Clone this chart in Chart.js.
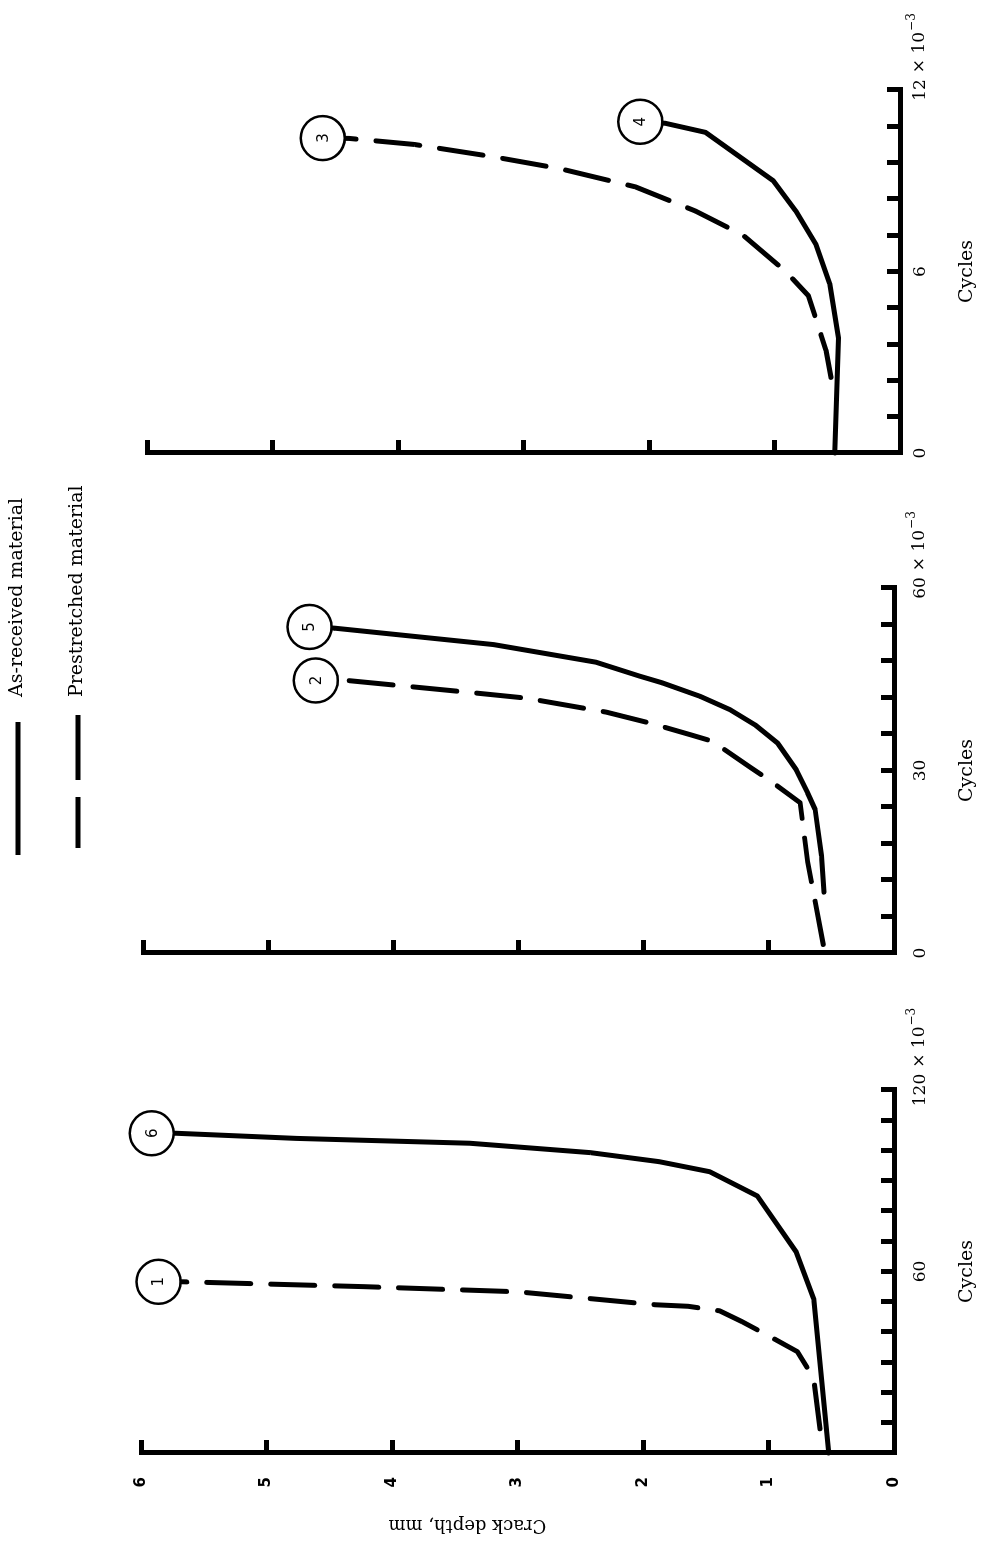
<!DOCTYPE html>
<html>
<head>
<meta charset="utf-8">
<title>Crack depth vs cycles</title>
<script src="https://cdn.jsdelivr.net/npm/chart.js@4.4.1/dist/chart.umd.min.js"></script>
<style>
  html, body { margin: 0; padding: 0; background: #fff; overflow: hidden; }
  /* the figure is drawn landscape, then turned a quarter turn to the left */
  #page { position: absolute; left: 0; top: 0; width: 1547px; height: 986px;
          transform-origin: 0 0; transform: translate(0, 1547px) rotate(-90deg); }
  #page canvas { position: absolute; left: 0; top: 0; }
</style>
</head>
<body>
<div id="page">
  <canvas id="panelA" width="1547" height="986"></canvas>
  <canvas id="panelB" width="1547" height="986"></canvas>
  <canvas id="panelC" width="1547" height="986"></canvas>
</div>
<script>
'use strict';

// left panel, cycles x 10^-3
var cyclesCurve1 = [8, 24.7, 33.5, 37.4, 43.4, 47.0, 48.5, 49.0, 53.3, 55.0, 56.6, 56.6];
var depthCurve1  = [0.59, 0.64, 0.77, 0.94, 1.21, 1.39, 1.64, 1.90, 3.00, 4.23, 5.66, 5.86];
var cyclesCurve6 = [0, 51, 66.5, 85, 93, 96.3, 99.3, 102.4, 104, 105.7, 105.7];
var depthCurve6  = [0.52, 0.64, 0.78, 1.09, 1.47, 1.87, 2.42, 3.38, 4.76, 5.72, 5.915];

// middle panel
var cyclesCurve2 = [1.4, 15, 24.7, 28.5, 30.4, 34.8, 35.9, 37.8, 39.6, 41.9, 43.0, 44.9, 44.8];
var depthCurve2  = [0.565, 0.69, 0.75, 1.0, 1.14, 1.45, 1.63, 1.95, 2.3, 2.94, 3.47, 4.42, 4.62];
var cyclesCurve5 = [10, 16, 23.6, 26.3, 30.1, 34.5, 37.5, 40, 42.2, 44.4, 45.5, 47.8, 50.7, 53.4, 53.6];
var depthCurve5  = [0.56, 0.58, 0.63, 0.69, 0.78, 0.93, 1.11, 1.31, 1.55, 1.85, 2.03, 2.38, 3.2, 4.47, 4.67];

// right panel
var cyclesCurve3 = [2.5, 3.4, 5.2, 6.0, 7.2, 8.0, 8.8, 9.4, 9.8, 10.2, 10.4, 10.41];
var depthCurve3  = [0.55, 0.59, 0.73, 0.91, 1.25, 1.63, 2.11, 2.71, 3.25, 3.87, 4.39, 4.6];
var cyclesCurve4 = [0, 3.8, 5.6, 6.9, 8.0, 9.0, 10.6, 10.9, 10.95];
var depthCurve4  = [0.52, 0.49, 0.56, 0.67, 0.83, 1.01, 1.55, 1.87, 2.07];

var cycleLabelsA = [60, 120];
var cycleLabelsB = [0, 30, 60];
var cycleLabelsC = [0, 6, 12];
var depthLabels = [0, 1, 2, 3, 4, 5, 6];
var legendNames = ['As-received material', 'Prestretched material'];

var SERIF = '"DejaVu Serif", serif';
var SANS = '"DejaVu Sans", sans-serif';
var DASH = [44, 20];

function curve(xs, ys, mark, dashed) {
  var n = xs.length;
  return {
    data: xs.map(function(x, i) { return { x: x, y: ys[i] }; }),
    mark: mark,
    borderColor: '#000',
    borderWidth: 5,
    borderDash: dashed ? DASH : [],
    borderCapStyle: 'round',
    borderJoinStyle: 'round',
    tension: 0,
    clip: false,
    pointRadius: function(c) { return c.dataIndex === n - 1 ? 22 : 0; },
    pointHoverRadius: 0,
    pointBackgroundColor: '#fff',
    pointBorderColor: '#000',
    pointBorderWidth: 2.5
  };
}

// circled curve numbers
var markText = {
  id: 'markText',
  afterDatasetsDraw: function(chart) {
    var ctx = chart.ctx;
    ctx.save();
    ctx.fillStyle = '#000';
    ctx.font = '15px ' + SANS;
    ctx.textAlign = 'center';
    ctx.textBaseline = 'middle';
    chart.data.datasets.forEach(function(ds, i) {
      var pts = chart.getDatasetMeta(i).data;
      var p = pts[pts.length - 1];
      ctx.fillText(ds.mark, p.x, p.y + 1);
    });
    ctx.restore();
  }
};

// "x 10^-3" after the last cycles label
var exponent = {
  id: 'exponent',
  afterDraw: function(chart) {
    var sx = chart.scales.x;
    var ctx = chart.ctx;
    var y = 920;
    ctx.save();
    ctx.fillStyle = '#000';
    ctx.textBaseline = 'middle';
    ctx.textAlign = 'left';
    ctx.font = '17px ' + SERIF;
    var x = sx.getPixelForValue(sx.max) + ctx.measureText(String(sx.max)).width / 2 + 6;
    ctx.fillText('\u00d7 10', x, y);
    x += ctx.measureText('\u00d7 10').width + 1;
    ctx.font = '12px ' + SERIF;
    ctx.fillText('\u22123', x, y - 8);
    ctx.restore();
  }
};

// axis title of the left panel, set a little toward the top of the axis as in the source
var depthTitle = {
  id: 'depthTitle',
  afterDraw: function(chart) {
    var sy = chart.scales.y;
    var ctx = chart.ctx;
    ctx.save();
    ctx.translate(22, sy.getPixelForValue(3.4));
    ctx.rotate(-Math.PI / 2);
    ctx.fillStyle = '#000';
    ctx.font = '18px ' + SERIF;
    ctx.textAlign = 'center';
    ctx.textBaseline = 'middle';
    ctx.fillText('Crack depth, mm', 0, 0);
    ctx.restore();
  }
};

var legendBox = {
  id: 'legendBox',
  afterDraw: function(chart) {
    var ctx = chart.ctx;
    ctx.save();
    ctx.strokeStyle = '#000';
    ctx.fillStyle = '#000';
    ctx.lineWidth = 5;
    ctx.lineCap = 'butt';
    ctx.beginPath();
    ctx.moveTo(692, 18);
    ctx.lineTo(825, 18);
    ctx.stroke();
    ctx.setLineDash([51, 17, 65, 100]);
    ctx.beginPath();
    ctx.moveTo(699, 78);
    ctx.lineTo(832, 78);
    ctx.stroke();
    ctx.font = '19px ' + SERIF;
    ctx.textBaseline = 'middle';
    ctx.fillText(legendNames[0], 850, 17);
    ctx.fillText(legendNames[1], 850, 77);
    ctx.restore();
  }
};

function makePanel(id, geo, xMax, xStep, shown, datasets, withDepthLabels, extra) {
  var tickFont = { family: SERIF, size: 17 };
  new Chart(document.getElementById(id), {
    type: 'line',
    data: { datasets: datasets },
    options: {
      responsive: false,
      devicePixelRatio: 1,
      animation: false,
      events: [],
      layout: { padding: { top: geo.top, bottom: 0, left: geo.left - 94, right: 1547 - geo.right } },
      plugins: { legend: { display: false }, tooltip: { enabled: false } },
      scales: {
        x: {
          type: 'linear', min: 0, max: xMax,
          afterFit: function(axis) { axis.height = 986 - geo.bottom; },
          border: { color: '#000', width: 5 },
          grid: { drawOnChartArea: false, tickLength: -13, tickWidth: 5, tickColor: '#000' },
          ticks: {
            stepSize: xStep, autoSkip: false, maxRotation: 0, color: '#000', font: tickFont,
            padding: geo.bottom === 900 ? 23 : 29,
            callback: function(v) { return shown.indexOf(v) >= 0 ? String(v) : ''; }
          },
          title: { display: true, text: 'Cycles', color: '#000',
                   font: { family: SERIF, size: 19 }, padding: { top: 0, bottom: 8 } }
        },
        y: {
          type: 'linear', min: 0, max: 6,
          afterFit: function(axis) { axis.width = 94; },
          border: { color: '#000', width: 5 },
          grid: { drawOnChartArea: false, tickLength: -13, tickWidth: 5, tickColor: '#000' },
          ticks: {
            stepSize: 1, display: withDepthLabels, padding: 37, color: '#000',
            font: { family: SANS, size: 15, weight: 'bold' },
            callback: function(v) { return depthLabels.indexOf(v) >= 0 ? String(v) : ''; }
          }
        }
      }
    },
    plugins: [markText, exponent].concat(extra)
  });
}

makePanel('panelA', { left: 94, right: 457, top: 141, bottom: 894 }, 120, 10, cycleLabelsA, [
  curve(cyclesCurve1, depthCurve1, '1', true),
  curve(cyclesCurve6, depthCurve6, '6', false)
], true, [depthTitle]);

makePanel('panelB', { left: 594, right: 959, top: 143, bottom: 894 }, 60, 6, cycleLabelsB, [
  curve(cyclesCurve2, depthCurve2, '2', true),
  curve(cyclesCurve5, depthCurve5, '5', false)
], false, [legendBox]);

makePanel('panelC', { left: 1094, right: 1457, top: 147, bottom: 900 }, 12, 1.2, cycleLabelsC, [
  curve(cyclesCurve3, depthCurve3, '3', true),
  curve(cyclesCurve4, depthCurve4, '4', false)
], false, []);
</script>
</body>
</html>
